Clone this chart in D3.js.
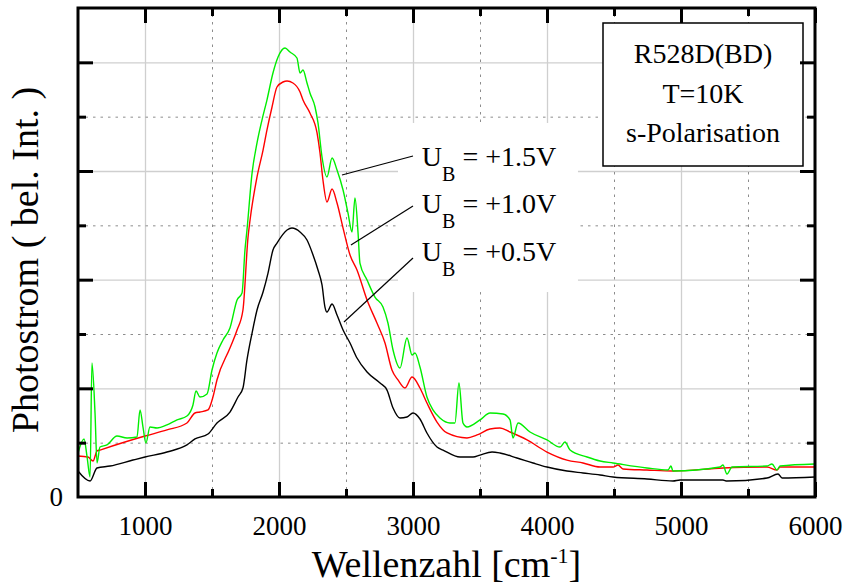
<!DOCTYPE html>
<html>
<head>
<meta charset="utf-8">
<script src="https://cdn.jsdelivr.net/npm/d3@7"></script>
<style>
  html, body { margin: 0; padding: 0; background: #fff; }
  svg text { font-family: "Liberation Serif", "Times New Roman", Times, serif; fill: #000; }
</style>
</head>
<body>
<svg id="chart" width="846" height="586"></svg>
<script>
// Axis ticks
const xMajorTicks = [1000, 2000, 3000, 4000, 5000, 6000];
const xMinorTicks = [1500, 2500, 3500, 4500, 5500];
const yMajorTicks = [1, 2, 3, 4];
const yMinorTicks = [0.5, 1.5, 2.5, 3.5];
const yLabelTicks = [0];

// Sample description
const sampleInfo = ["R528D(BD)", "T=10K", "s-Polarisation"];

// Photocurrent spectra [wavenumber cm^-1, photocurrent (rel. units)]
const spectrumLow = [ // U_B = +0.5V
  [500,0.239],[590,0.147],[642,0.267],[739,0.285],[910,0.340],[1000,0.368],[1164,0.414],
  [1313,0.479],[1373,0.534],[1470,0.580],[1537,0.681],[1634,0.782],[1694,0.920],[1731,1.003],
  [1761,1.261],[1799,1.509],[1836,1.721],[1881,1.886],[1918,2.061],[1955,2.273],[1985,2.337],
  [2060,2.457],[2097,2.475],[2157,2.439],[2209,2.365],[2254,2.227],[2291,2.089],[2321,1.951],
  [2343,1.748],[2358,1.702],[2396,1.776],[2433,1.675],[2478,1.537],[2530,1.417],[2582,1.279],
  [2657,1.150],[2754,1.049],[2806,0.984],[2851,0.819],[2903,0.727],[2955,0.736],[3000,0.773],
  [3052,0.718],[3104,0.589],[3179,0.460],[3224,0.432],[3351,0.368],[3448,0.368],[3500,0.386],
  [3590,0.414],[3649,0.405],[3776,0.359],[3896,0.313],[4000,0.276],[4149,0.239],[4269,0.221],
  [4396,0.202],[4493,0.184],[4746,0.166],[4940,0.147],[4993,0.156],[5313,0.156],[5343,0.147],
  [5642,0.175],[5724,0.212],[5754,0.175],[6000,0.184]
];
const spectrumMid = [ // U_B = +1.0V
  [500,0.377],[575,0.368],[612,0.331],[642,0.423],[664,0.432],[1000,0.561],[1164,0.617],
  [1313,0.681],[1373,0.773],[1410,0.782],[1470,0.801],[1507,0.920],[1537,1.077],[1634,1.371],
  [1687,1.537],[1731,1.721],[1769,2.393],[1784,2.549],[1836,2.945],[1881,3.193],[1910,3.377],
  [1948,3.589],[1985,3.773],[2030,3.819],[2060,3.828],[2104,3.810],[2157,3.727],[2179,3.653],
  [2231,3.534],[2284,3.350],[2306,3.166],[2328,2.917],[2358,2.715],[2396,2.834],[2433,2.705],
  [2478,2.475],[2530,2.227],[2582,2.089],[2657,1.813],[2731,1.601],[2791,1.417],[2843,1.169],
  [2888,1.077],[2940,1.003],[2993,1.104],[3052,1.003],[3104,0.865],[3179,0.690],[3254,0.589],
  [3403,0.543],[3478,0.571],[3575,0.626],[3649,0.635],[3724,0.598],[3851,0.525],[4000,0.414],
  [4149,0.340],[4269,0.313],[4396,0.276],[4493,0.276],[4530,0.294],[4567,0.258],[4746,0.248],
  [4940,0.239],[5313,0.267],[5642,0.276],[5716,0.248],[5739,0.276],[6000,0.276]
];
const spectrumHigh = [ // U_B = +1.5V
  [500,0.405],[545,0.534],[567,0.377],[590,0.184],[604,1.233],[627,0.773],[642,0.313],
  [664,0.460],[716,0.479],[791,0.561],[866,0.543],[940,0.552],[963,0.801],[985,0.644],
  [1007,0.497],[1037,0.644],[1090,0.635],[1164,0.663],[1239,0.709],[1313,0.745],[1358,0.847],
  [1381,0.975],[1410,0.920],[1463,0.948],[1500,1.169],[1537,1.325],[1582,1.445],[1634,1.555],
  [1687,1.813],[1724,1.877],[1746,2.273],[1761,2.457],[1799,2.981],[1836,3.258],[1873,3.469],
  [1910,3.653],[1955,3.902],[1993,4.049],[2045,4.132],[2082,4.095],[2134,4.040],[2157,3.902],
  [2179,3.929],[2209,3.810],[2231,3.718],[2269,3.589],[2291,3.442],[2321,3.129],[2358,2.945],
  [2396,3.120],[2433,3.009],[2478,2.825],[2515,2.613],[2545,2.439],[2567,2.751],[2590,2.429],
  [2604,2.153],[2657,1.997],[2716,1.840],[2776,1.748],[2813,1.601],[2851,1.353],[2903,1.187],
  [2955,1.463],[2993,1.307],[3015,1.325],[3052,1.196],[3104,0.920],[3149,0.801],[3201,0.727],
  [3276,0.681],[3313,0.681],[3343,1.049],[3373,0.681],[3403,0.644],[3500,0.709],[3575,0.773],
  [3672,0.764],[3724,0.709],[3746,0.543],[3784,0.681],[3873,0.598],[4000,0.525],[4097,0.460],
  [4134,0.506],[4172,0.432],[4299,0.368],[4396,0.331],[4493,0.313],[4746,0.267],[4903,0.248],
  [4925,0.285],[4940,0.239],[5291,0.276],[5313,0.294],[5343,0.212],[5381,0.276],[5642,0.285],
  [5679,0.304],[5716,0.248],[5739,0.285],[6000,0.304]
];

// Bias labels: text, label anchor (wavenumber, value) and pointer target on the curve
const biasLabels  = ["+1.5V", "+1.0V", "+0.5V"];
const labelAnchor = [[3000, 3.138], [3000, 2.678], [3000, 2.199]];
const labelTarget = [[2470, 2.963], [2537, 2.319], [2485, 1.610]];
const labelBase   = [[3066, 3.046], [3066, 2.613], [3066, 2.172]];

const svg = d3.select("#chart");
const pL = 78, pR = 815, pT = 8, pB = 497;
const x = d3.scaleLinear().domain([500, 6000]).range([pL, pR]);
const y = d3.scaleLinear().domain([0, 4.5]).range([pB, pT]);
const plotW = pR - pL, plotH = pB - pT;

// Grid
function grid(axis, transform, values, size, stroke, width, dash) {
  const g = svg.append("g").attr("transform", transform)
    .call(axis.tickValues(values).tickSize(size).tickFormat(""));
  g.select(".domain").remove();
  g.selectAll("line").attr("stroke", stroke).attr("stroke-width", width)
    .attr("stroke-dasharray", dash);
  return g;
}
grid(d3.axisBottom(x), `translate(0,${pB})`, xMajorTicks, -plotH, "#cfcfcf", 1.3, null);
grid(d3.axisLeft(y), `translate(${pL},0)`, yMajorTicks, -plotW, "#cfcfcf", 1.3, null);
grid(d3.axisBottom(x), `translate(0,${pB})`, xMinorTicks, -plotH, "#8c8c8c", 1, "2.5,5");
grid(d3.axisLeft(y), `translate(${pL},0)`, yMinorTicks, -plotW, "#8c8c8c", 1, "2.5,5");

// White backing behind the bias labels
svg.append("rect")
  .attr("x", x(2888)).attr("y", y(3.442))
  .attr("width", x(4231) - x(2888)).attr("height", y(1.886) - y(3.442))
  .attr("fill", "#fff");

// Spectra
const line = d3.line().x(d => x(d[0])).y(d => y(d[1])).curve(d3.curveMonotoneX);
[[spectrumLow, "#000000"], [spectrumMid, "#ff0000"], [spectrumHigh, "#00ee00"]].forEach(([data, color]) => {
  svg.append("path").datum(data)
    .attr("d", line).attr("fill", "none")
    .attr("stroke", color).attr("stroke-width", 1.4).attr("stroke-linejoin", "round");
});

// Sample info box
const box = svg.append("g");
box.append("rect").attr("x", 603).attr("y", 23).attr("width", 200).attr("height", 143)
  .attr("fill", "#fff").attr("stroke", "#000").attr("stroke-width", 1.5);
box.selectAll("text").data(sampleInfo).join("text")
  .attr("x", 703).attr("y", (d, i) => 63 + i * 39.5)
  .attr("text-anchor", "middle").attr("font-size", 28).text(d => d);

// Bias labels with leader lines
biasLabels.forEach((lab, i) => {
  svg.append("line")
    .attr("x1", x(labelAnchor[i][0])).attr("y1", y(labelAnchor[i][1]))
    .attr("x2", x(labelTarget[i][0])).attr("y2", y(labelTarget[i][1]))
    .attr("stroke", "#000").attr("stroke-width", 1.2);
  const t = svg.append("text")
    .attr("x", x(labelBase[i][0])).attr("y", y(labelBase[i][1]))
    .attr("font-size", 28);
  t.append("tspan").text("U");
  t.append("tspan").attr("dy", 15).attr("font-size", 20).text("B");
  t.append("tspan").attr("dy", -15).text("\u00a0= " + lab);
});

// Frame
svg.append("rect").attr("x", pL).attr("y", pT).attr("width", plotW).attr("height", plotH)
  .attr("fill", "none").attr("stroke", "#000").attr("stroke-width", 3);

// Inward ticks on all four sides
function ticks(axis, transform, values, size, fmt, pad, fontSize) {
  const g = svg.append("g").attr("transform", transform)
    .call(axis.tickValues(values).tickSize(size).tickPadding(pad).tickFormat(fmt));
  g.select(".domain").remove();
  g.selectAll("line").attr("stroke", "#000").attr("stroke-width", 3);
  g.attr("font-size", fontSize).attr("font-family", null);
  return g;
}
ticks(d3.axisBottom(x), `translate(0,${pB})`, xMajorTicks, -15, d3.format("d"), 19, 27);
ticks(d3.axisBottom(x), `translate(0,${pB})`, xMinorTicks, -8, "", 0, 10);
ticks(d3.axisTop(x), `translate(0,${pT})`, xMajorTicks, -15, "", 0, 10);
ticks(d3.axisTop(x), `translate(0,${pT})`, xMinorTicks, -8, "", 0, 10);
ticks(d3.axisLeft(y), `translate(${pL},0)`, yMajorTicks, -15, "", 0, 10);
ticks(d3.axisLeft(y), `translate(${pL},0)`, yMinorTicks, -8, "", 0, 10);
ticks(d3.axisRight(y), `translate(${pR},0)`, yMajorTicks, -15, "", 0, 10);
ticks(d3.axisRight(y), `translate(${pR},0)`, yMinorTicks, -8, "", 0, 10);
ticks(d3.axisLeft(y), `translate(${pL},0)`, yLabelTicks, 0, d3.format("d"), 15, 27);

// Axis titles
const xt = svg.append("text").attr("x", (pL + pR) / 2).attr("y", 577)
  .attr("text-anchor", "middle").attr("font-size", 38);
xt.append("tspan").text("Wellenzahl [cm");
xt.append("tspan").attr("dy", -14).attr("font-size", 22).text("-1");
xt.append("tspan").attr("dy", 14).text("]");

svg.append("text")
  .attr("transform", "translate(38,260) rotate(-90)")
  .attr("text-anchor", "middle").attr("font-size", 38)
  .text("Photostrom ( bel. Int. )");
</script>
</body>
</html>
